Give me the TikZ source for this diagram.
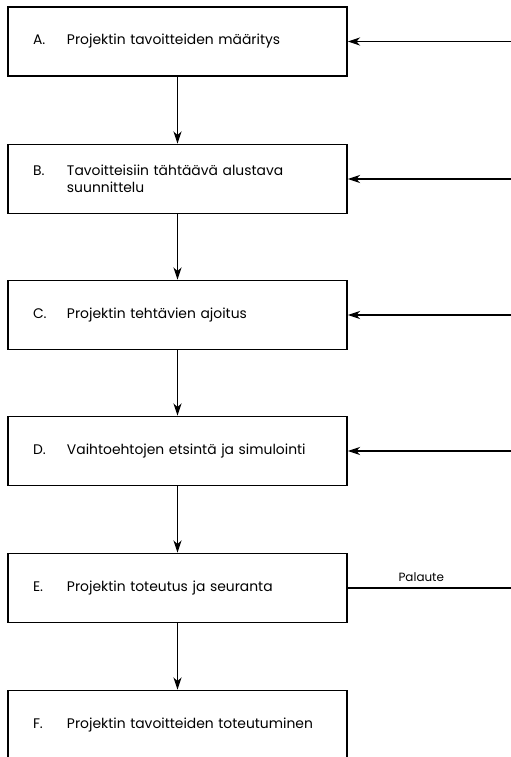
\documentclass[tikz,border=0pt]{standalone}
\usepackage{fontspec}
\setmainfont{Poppins}
\usepackage{tikz}
\usetikzlibrary{shapes,arrows.meta,positioning}

\newcommand{\steptext}[2]{\makebox[0.68cm][l]{#1}\parbox[t]{5.4cm}{\raggedright #2}}
\tikzset{
  phase/.style={shape=rectangle,draw=black,line width=1pt,minimum width=6.78cm,minimum height=1.38cm,inner xsep=0.5cm,text width=5.78cm,align=left,font=\fontsize{7.9}{9.8}\selectfont},
  flow/.style={-{Stealth[length=7pt,width=4.6pt,inset=2.2pt]},line width=0.6pt},
  back/.style={line width=0.6pt}
}

\begin{document}
\begin{tikzpicture}
\useasboundingbox (0,0) rectangle (10.22,15.14);

% Phase boxes
\node [phase] at (3.55,14.31) (a) {\steptext{A.}{Projektin tavoitteiden määritys}};
\node [phase] at (3.55,11.56) (b) {\steptext{B.}{Tavoitteisiin tähtäävä alustava\\suunnittelu}};
\node [phase] at (3.55,8.84)  (c) {\steptext{C.}{Projektin tehtävien ajoitus}};
\node [phase] at (3.55,6.12)  (d) {\steptext{D.}{Vaihtoehtojen etsintä ja simulointi}};
\node [phase] at (3.55,3.38)  (e) {\steptext{E.}{Projektin toteutus ja seuranta}};
\node [phase] at (3.55,0.64)  (f) {\steptext{F.}{Projektin tavoitteiden toteutuminen}};

% Feedback ends at the right edge
\coordinate (ra) at (10.22,14.31);
\coordinate (rb) at (10.22,11.56);
\coordinate (rc) at (10.22,8.84);
\coordinate (rd) at (10.22,6.12);
\coordinate (re) at (10.22,3.38);

% Lines down the chain
\draw [flow] (a) -- (b);
\draw [flow] (b) -- (c);
\draw [flow] (c) -- (d);
\draw [flow] (d) -- (e);
\draw [flow] (e) -- (f);

% Feedback lines
\draw [flow] (ra) -- (a);
\draw [flow] (rb) -- (b);
\draw [flow] (rc) -- (c);
\draw [flow] (rd) -- (d);
\draw [back] (e) -- (re) node[pos=0.45,above,font=\fontsize{6.8}{9}\selectfont] {Palaute};

\end{tikzpicture}
\end{document}
